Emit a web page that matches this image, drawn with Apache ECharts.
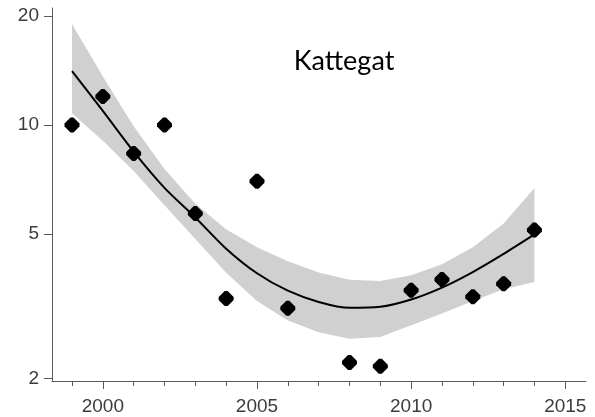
<!DOCTYPE html>
<html>
<head>
<meta charset="utf-8">
<script src="https://cdn.jsdelivr.net/npm/echarts@6/dist/echarts.min.js"></script>
<style>
  html, body { margin: 0; padding: 0; background: #fff; }
  #chart { width: 595px; height: 417px; }
</style>
</head>
<body>
<div id="chart"></div>
<script>
// Survey years and observed index values (log scale)
const obsYears = [1999, 2000, 2001, 2002, 2003, 2004, 2005, 2006, 2008, 2009, 2010, 2011, 2012, 2013, 2014];
const obsValues = [10.0, 12.0, 8.35, 10.0, 5.70, 3.32, 7.00, 3.12, 2.21, 2.16, 3.50, 3.75, 3.36, 3.65, 5.13];

// Fitted trend with its confidence band
const fitYears = [1999, 2000, 2001, 2002, 2003, 2004, 2005, 2006, 2007, 2008, 2009, 2010, 2011, 2012, 2013, 2014];
const fitValues = [14.09, 10.94, 8.45, 6.71, 5.56, 4.56, 3.90, 3.49, 3.25, 3.13, 3.15, 3.30, 3.56, 3.93, 4.41, 4.99];
const bandUpper = [19.01, 13.61, 9.93, 7.57, 6.07, 5.16, 4.60, 4.21, 3.92, 3.74, 3.71, 3.85, 4.13, 4.60, 5.35, 6.70];
const bandLower = [10.79, 9.05, 7.47, 6.01, 4.85, 3.91, 3.27, 2.89, 2.68, 2.57, 2.60, 2.80, 3.02, 3.27, 3.52, 3.69];

// Axis ticks
const yTicks = [2, 5, 10, 20];
const xMajorTicks = [2000, 2005, 2010, 2015];
const xMinorTicks = [1999, 2001, 2002, 2003, 2004, 2006, 2007, 2008, 2009, 2011, 2012, 2013, 2014];

const chartTitle = 'Kattegat';

const chart = echarts.init(document.getElementById('chart'), null, { renderer: 'canvas' });

const axisColor = '#5a5a5a';
const labelColor = '#3c3c3c';
const xMin = 1998.351, xMax = 2015.672;

// Diamond marker with clipped tips
const markerPath = 'path://M4,0 L6,0 L10,4 L10,6 L6,10 L4,10 L0,6 L0,4 Z';

chart.setOption({
  animation: false,
  backgroundColor: '#ffffff',
  title: {
    text: chartTitle,
    left: 339,
    top: 43,
    textAlign: 'center',
    textStyle: { fontFamily: 'Lato', fontSize: 27, fontWeight: 'normal', color: '#000' }
  },
  grid: { left: 52, right: 9, top: 8, height: 373, containLabel: false },
  xAxis: [
    {
      type: 'value', min: xMin, max: xMax,
      axisLine: { show: true, lineStyle: { color: axisColor, width: 1 } },
      axisTick: { show: true, customValues: xMajorTicks, length: 8, lineStyle: { color: axisColor } },
      axisLabel: { show: true, customValues: xMajorTicks, margin: 16, color: labelColor,
        fontFamily: 'Liberation Sans', fontSize: 19, formatter: v => String(v) },
      splitLine: { show: false }
    },
    {
      type: 'value', min: xMin, max: xMax, position: 'bottom',
      axisLine: { show: false },
      axisTick: { show: true, customValues: xMinorTicks, length: 5, lineStyle: { color: axisColor } },
      axisLabel: { show: false },
      splitLine: { show: false }
    }
  ],
  yAxis: {
    type: 'log', logBase: 10, min: 1.966, max: 21.05,
    axisLine: { show: true, lineStyle: { color: axisColor, width: 1 } },
    axisTick: { show: true, customValues: yTicks, length: 8, lineStyle: { color: axisColor } },
    axisLabel: { show: true, customValues: yTicks, margin: 13, color: labelColor,
      fontFamily: 'Liberation Sans', fontSize: 19, formatter: v => String(v) },
    splitLine: { show: false },
    minorTick: { show: false }
  },
  series: [
    {
      // confidence band as one polygon: upper edge forward, lower edge back
      type: 'custom',
      silent: true,
      z: 1,
      data: fitYears.map((yr, i) => [yr, bandLower[i], bandUpper[i]]),
      encode: { x: 0, y: [1, 2] },
      renderItem: function (params, api) {
        if (params.dataIndex !== 0) return null;
        const pts = [];
        for (let i = 0; i < fitYears.length; i++) pts.push(api.coord([fitYears[i], bandUpper[i]]));
        for (let i = fitYears.length - 1; i >= 0; i--) pts.push(api.coord([fitYears[i], bandLower[i]]));
        return { type: 'polygon', shape: { points: pts }, style: { fill: '#d0d0d0', stroke: null } };
      }
    },
    {
      type: 'line',
      z: 3,
      smooth: 0.3,
      showSymbol: false,
      silent: true,
      data: fitYears.map((yr, i) => [yr, fitValues[i]]),
      lineStyle: { color: '#000', width: 2 }
    },
    {
      type: 'scatter',
      z: 4,
      symbol: markerPath,
      symbolSize: 15,
      data: obsYears.map((yr, i) => [yr, obsValues[i]]),
      itemStyle: { color: '#000', opacity: 1 }
    }
  ]
});
</script>
</body>
</html>
